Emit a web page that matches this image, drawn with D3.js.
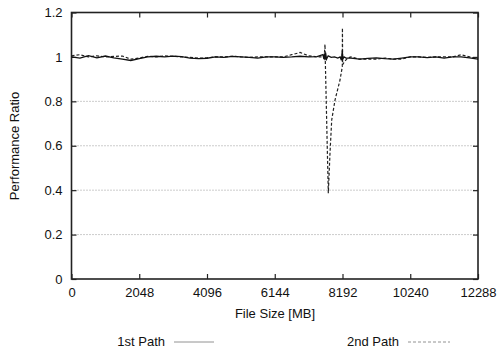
<!DOCTYPE html>
<html><head><meta charset="utf-8">
<script src="https://cdn.jsdelivr.net/npm/d3@7"></script>
<style>body{margin:0;background:#fff}svg{display:block}text{font-family:"Liberation Sans",Arial,sans-serif;fill:#111}</style>
</head><body><svg id="c" width="499" height="349"></svg>
<script>
const xTicks = [0,2048,4096,6144,8192,10240,12288];
const yTicks = [0,0.2,0.4,0.6,0.8,1,1.2];
const gridTicks = [0.2,0.4,0.6,0.8];
const seriesNames = ["1st Path","2nd Path"];
const path1X = [0,256,512,768,1024,1280,1536,1792,2048,2304,2560,2816,3072,3328,3584,3840,4096,4352,4608,4864,5120,5376,5632,5888,6144,6400,6656,6912,7168,7424,7600,7630,7650,7663,7680,7710,7760,7850,7950,8050,8120,8160,8186,8200,8240,8300,8448,8704,8960,9216,9472,9728,9984,10240,10496,10752,11008,11264,11520,11776,12032,12288];
const path1Y = [1.0,0.995,1.006,0.996,1.004,0.996,0.99,0.984,0.992,1.0,1.003,1.0,1.004,1.001,0.995,0.992,0.994,1.0,0.998,1.002,1.0,0.998,0.995,1.0,1.0,0.998,1.0,1.003,1.0,1.001,1.01,0.99,1.015,0.985,1.02,0.99,1.005,0.998,1.0,0.995,1.0,0.985,1.03,0.99,1.0,0.995,0.995,0.99,0.993,0.996,0.992,0.99,0.995,1.0,1.0,0.997,1.0,0.995,1.0,1.0,0.996,0.99];
const path2X = [0,256,512,768,1024,1280,1536,1792,2048,2304,2560,2816,3072,3328,3584,3840,4096,4352,4608,4864,5120,5376,5632,5888,6144,6400,6656,6912,7168,7424,7640,7663,7670,7763,7814,7866,7966,8117,8186,8190,8196,8260,8350,8448,8704,8960,9216,9472,9728,9984,10240,10496,10752,11008,11264,11520,11776,12032,12288];
const path2Y = [1.005,1.01,1.0,1.005,1.0,1.002,1.004,0.99,0.995,1.003,1.0,1.005,1.003,1.0,0.998,0.994,0.996,1.0,1.0,1.003,1.0,0.998,1.0,1.0,1.0,1.0,1.01,1.02,1.005,1.0,1.0,1.057,1.0,0.386,0.567,0.716,0.806,0.896,0.956,1.13,0.965,0.98,0.995,1.0,0.99,0.99,0.99,0.995,0.99,0.99,1.0,1.0,0.998,1.0,1.0,1.0,1.01,1.0,0.99];

const svg = d3.select("#c");
const L=71.5, R=478, T=12.5, B=279;
const x = d3.scaleLinear().domain([0,12288]).range([L,R]);
const y = d3.scaleLinear().domain([0,1.2]).range([B,T]);

// grid
svg.append("g").selectAll("line").data(gridTicks).join("line")
  .attr("x1",L).attr("x2",R).attr("y1",d=>y(d)).attr("y2",d=>y(d))
  .attr("stroke","#999").attr("stroke-width",1).attr("stroke-dasharray","1,2");

// axes
const tl=5;
const ax = svg.append("g").attr("transform",`translate(0,${B})`)
  .call(d3.axisBottom(x).tickValues(xTicks).tickFormat(d3.format("d")).tickSizeInner(-tl).tickSizeOuter(0).tickPadding(9));
const axT = svg.append("g").attr("transform",`translate(0,${T})`)
  .call(d3.axisTop(x).tickValues(xTicks).tickFormat("").tickSizeInner(-tl).tickSizeOuter(0));
const ay = svg.append("g").attr("transform",`translate(${L},0)`)
  .call(d3.axisLeft(y).tickValues(yTicks).tickFormat(d=>d3.format("")(d)).tickSizeInner(-tl).tickSizeOuter(0).tickPadding(9));
const ayR = svg.append("g").attr("transform",`translate(${R},0)`)
  .call(d3.axisRight(y).tickValues(yTicks).tickFormat("").tickSizeInner(-tl).tickSizeOuter(0));
[ax,axT,ay,ayR].forEach(g=>{
  g.select(".domain").remove();
  g.selectAll("line").attr("stroke","#222").attr("stroke-width",1.2);
  g.selectAll("text").attr("font-size",13).attr("fill","#111").style("font-family","Liberation Sans, Arial, sans-serif");
});
svg.append("rect").attr("x",L).attr("y",T).attr("width",R-L).attr("height",B-T)
  .attr("fill","none").attr("stroke","#222").attr("stroke-width",1.6);

// lines
const line = d3.line().x(d=>x(d[0])).y(d=>y(d[1]));
const d1 = path1X.map((v,i)=>[v,path1Y[i]]);
const d2 = path2X.map((v,i)=>[v,path2Y[i]]);
svg.append("path").datum(d2).attr("d",line).attr("fill","none").attr("stroke","#222").attr("stroke-width",1.2).attr("stroke-dasharray","3,2");
svg.append("path").datum(d1).attr("d",line).attr("fill","none").attr("stroke","#111").attr("stroke-width",1.3);

// labels
svg.append("text").attr("x",275).attr("y",318).attr("text-anchor","middle").attr("font-size",13).text("File Size [MB]");
svg.append("text").attr("transform","translate(19,146) rotate(-90)").attr("text-anchor","middle").attr("font-size",13).text("Performance Ratio");

// legend
const leg = [{name:seriesNames[0],tx:165,lx1:174,lx2:214,dash:null},{name:seriesNames[1],tx:399,lx1:408,lx2:450,dash:"3,2"}];
leg.forEach(l=>{
  svg.append("text").attr("x",l.tx).attr("y",346).attr("text-anchor","end").attr("font-size",13).text(l.name);
  svg.append("line").attr("x1",l.lx1).attr("x2",l.lx2).attr("y1",342).attr("y2",342).attr("stroke","#777").attr("stroke-width",0.8).attr("stroke-dasharray",l.dash);
});
</script></body></html>
